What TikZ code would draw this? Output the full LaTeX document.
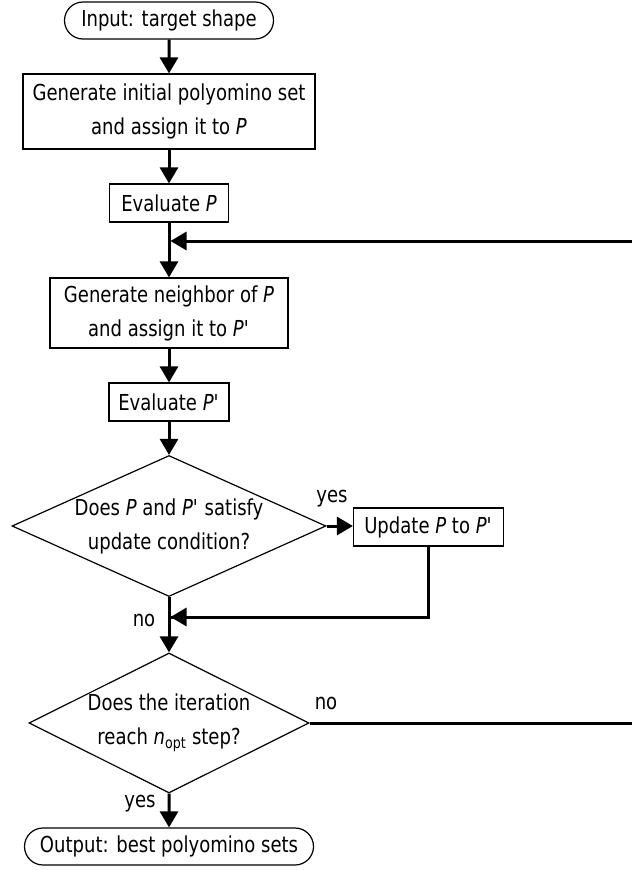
\documentclass[tikz,border=0pt]{standalone}
\usepackage{fontspec}
\setmainfont[FakeStretch=0.82]{DejaVu Sans}
\usetikzlibrary{arrows.meta,shapes.geometric,shapes.misc}
\newcommand{\Pp}{\textit{P\textquotesingle}}
\begin{document}
\begin{tikzpicture}[x=1pt,y=-1pt]
\tikzset{
  txt/.style={font=\fontsize{22}{34}\selectfont, align=center, inner sep=0pt},
  procbox/.style={txt, draw, line width=1.2pt, rectangle},
  term/.style={txt, draw, line width=1.2pt, rounded rectangle},
  decision/.style={draw, line width=1.2pt, diamond, inner sep=0pt},
  flow/.style={line width=3pt, -{Triangle[length=16pt,width=18pt]}},
  plainline/.style={line width=3pt},
}
\useasboundingbox (0,0) rectangle (632,870);

% main column
\node[term, minimum width=209pt, minimum height=37pt] (in) at (169,20.5) {Input: target shape};
\node[procbox, minimum width=292pt, minimum height=75pt] (gen) at (169,111.5)
  {Generate initial polyomino set\\and assign it to \textit{P}};
\node[procbox, minimum width=119pt, minimum height=38pt] (eval) at (169,203) {Evaluate \textit{P}};
\node[procbox, minimum width=238pt, minimum height=70pt] (nb) at (169,313)
  {Generate neighbor of \textit{P}\\and assign it to \Pp};
\node[procbox, minimum width=120pt, minimum height=38pt] (evalp) at (169,402) {Evaluate \Pp};
\node[decision, minimum width=314pt, minimum height=141pt,
  label={[txt]center:{Does \textit{P} and \Pp{} satisfy\\update condition?}}] (d1) at (169,526) {};
\node[procbox, minimum width=150pt, minimum height=38pt] (upd) at (428.5,527) {Update \textit{P} to \Pp};
\node[decision, minimum width=280pt, minimum height=140pt,
  label={[txt]center:{Does the iteration\\reach \textit{n}\textsubscript{opt} step?}}] (d2) at (169,723) {};
\node[term, minimum width=289pt, minimum height=37pt] (out) at (169,846.5) {Output: best polyomino sets};

% junctions and loop ends at the right border
\coordinate (m1) at (169,241);
\coordinate (m2) at (169,617);
\coordinate (r1) at (632,241);
\coordinate (r2) at (632,723);

% connectors
\draw[flow] (in) -- (gen);
\draw[flow] (gen) -- (eval);
\draw[flow] (eval) -- (nb);
\draw[flow] (r1) -- ([xshift=1.5pt]m1);
\draw[flow] (nb) -- (evalp);
\draw[flow] (evalp) -- (d1);
\draw[flow] (d1.east) -- (d1.east -| upd.west);
\draw[plainline] (upd.south) |- ([xshift=1.5pt]m2);
\draw[flow] (upd.south |- m2) -- ([xshift=1.5pt]m2);
\draw[flow] (d1) -- (d2);
\draw[plainline] (d2.east) -- (r2);
\draw[flow] (d2) -- (out);

% branch labels
\node[txt] (yes1) at (332,499) {yes};
\node[txt] (no1) at (144,620) {no};
\node[txt] (no2) at (326,703) {no};
\node[txt] (yes2) at (140,804) {yes};
\end{tikzpicture}
\end{document}
